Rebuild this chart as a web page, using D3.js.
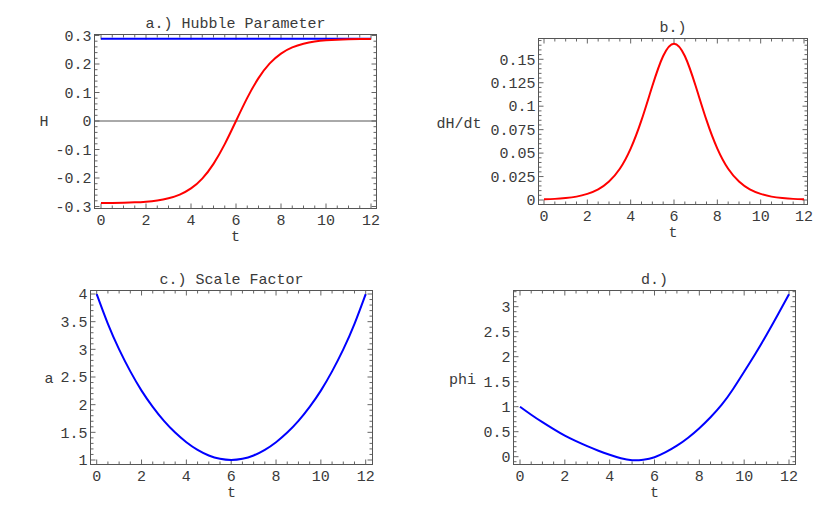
<!DOCTYPE html>
<html>
<head>
<meta charset="utf-8">
<script src="https://cdn.jsdelivr.net/npm/d3@7"></script>
<style>
  body { margin: 0; background: #fff; }
  svg { display: block; }
  text { font-family: "Liberation Mono", "Courier New", monospace; font-size: 15px; fill: #3a3a3a; }
</style>
</head>
<body>
<script>
// sample times
var tValues = [0, 0.5, 1, 1.5, 2, 2.5, 3, 3.5, 4, 4.5, 5, 5.5, 6, 6.5, 7, 7.5, 8, 8.5, 9, 9.5, 10, 10.5, 11, 11.5, 12];

// a.) Hubble parameter (red) and its limit (blue)
var hubble = [-0.2881, -0.2877, -0.2869, -0.2855, -0.2830, -0.2787, -0.2711, -0.2582, -0.2366, -0.2020, -0.1503, -0.0811, 0,
  0.0811, 0.1503, 0.2020, 0.2366, 0.2582, 0.2711, 0.2787, 0.2830, 0.2855, 0.2869, 0.2877, 0.2881];
var hubbleLimitT = [0, 12];
var hubbleLimit = [0.2887, 0.2887];

// b.) dH/dt
var dHdt = [0.0007, 0.0012, 0.0021, 0.0036, 0.0065, 0.0113, 0.0197, 0.0333, 0.0548, 0.0851, 0.1215, 0.1535, 0.1667,
  0.1535, 0.1215, 0.0851, 0.0548, 0.0333, 0.0197, 0.0113, 0.0065, 0.0036, 0.0021, 0.0012, 0.0007];

// c.) scale factor
var scaleFactor = [3.998, 3.461, 2.998, 2.602, 2.254, 1.960, 1.707, 1.496, 1.322, 1.183, 1.082, 1.021, 1.000,
  1.021, 1.082, 1.183, 1.322, 1.496, 1.707, 1.960, 2.254, 2.602, 2.998, 3.461, 3.998];

// d.) phi
var phi = [1.00, 0.84, 0.69, 0.55, 0.42, 0.31, 0.21, 0.12, 0.04, -0.03, -0.07, -0.06, -0.01,
  0.09, 0.22, 0.38, 0.57, 0.79, 1.04, 1.35, 1.70, 2.06, 2.44, 2.84, 3.25];

// tick labels
var xTicks = [0, 2, 4, 6, 8, 10, 12];
var yTicksA = [-0.3, -0.2, -0.1, 0, 0.1, 0.2, 0.3];
var yLabelsA = ["-0.3", "-0.2", "-0.1", "0", "0.1", "0.2", "0.3"];
var yTicksB = [0, 0.025, 0.05, 0.075, 0.1, 0.125, 0.15];
var yLabelsB = ["0", "0.025", "0.05", "0.075", "0.1", "0.125", "0.15"];
var yTicksC = [1, 1.5, 2, 2.5, 3, 3.5, 4];
var yLabelsC = ["1", "1.5", "2", "2.5", "3", "3.5", "4"];
var yTicksD = [0, 0.5, 1, 1.5, 2, 2.5, 3];
var yLabelsD = ["0", "0.5", "1", "1.5", "2", "2.5", "3"];

var svg = d3.select("body").append("svg").attr("width", 830).attr("height", 513);

function drawPanel(p) {
  var g = svg.append("g");
  var x = d3.scaleLinear().domain([0, 12]).range(p.xRange);
  var y = d3.scaleLinear().domain(p.yDomain).range(p.yRange);
  var f = p.frame;

  // minor + major ticks on all four sides, pointing inward
  var xMinor = d3.range(-0.5, 12.51, 0.5).filter(function (v) { return x(v) > f.x0 && x(v) < f.x1; });
  var yMinor = d3.range(p.yMinorFrom, p.yMinorTo + p.yMinorStep / 2, p.yMinorStep)
    .filter(function (v) { return y(v) > f.y0 + 0.5 && y(v) < f.y1 - 0.5; });
  var tickColor = "#666";

  xMinor.forEach(function (v) {
    var major = xTicks.some(function (m) { return Math.abs(m - v) < 1e-6; });
    var len = major ? 5 : 3;
    g.append("line").attr("x1", x(v)).attr("x2", x(v)).attr("y1", f.y1).attr("y2", f.y1 - len)
      .attr("stroke", tickColor).attr("stroke-width", 1);
    g.append("line").attr("x1", x(v)).attr("x2", x(v)).attr("y1", f.y0).attr("y2", f.y0 + len)
      .attr("stroke", tickColor).attr("stroke-width", 1);
  });
  yMinor.forEach(function (v) {
    var major = p.yTicks.some(function (m) { return Math.abs(m - v) < 1e-6; });
    var len = major ? 5 : 3;
    g.append("line").attr("x1", f.x0).attr("x2", f.x0 + len).attr("y1", y(v)).attr("y2", y(v))
      .attr("stroke", tickColor).attr("stroke-width", 1);
    g.append("line").attr("x1", f.x1).attr("x2", f.x1 - len).attr("y1", y(v)).attr("y2", y(v))
      .attr("stroke", tickColor).attr("stroke-width", 1);
  });

  // zero axis
  if (p.zeroLine) {
    g.append("line").attr("x1", f.x0).attr("x2", f.x1).attr("y1", y(0)).attr("y2", y(0))
      .attr("stroke", "#555").attr("stroke-width", 1);
  }

  // frame
  g.append("rect").attr("x", f.x0).attr("y", f.y0).attr("width", f.x1 - f.x0).attr("height", f.y1 - f.y0)
    .attr("fill", "none").attr("stroke", "#555").attr("stroke-width", 1);

  // curves
  p.series.forEach(function (s) {
    var line = d3.line()
      .x(function (d, i) { return x(s.t[i]); })
      .y(function (d) { return y(d); })
      .curve(d3.curveNatural);
    g.append("path").datum(s.values).attr("d", line)
      .attr("fill", "none").attr("stroke", s.color).attr("stroke-width", 2);
  });

  // x tick labels
  g.selectAll(".xt").data(xTicks).enter().append("text")
    .attr("x", function (d) { return x(d); }).attr("y", f.y1 + 16)
    .attr("text-anchor", "middle").text(function (d) { return d; });

  // y tick labels
  g.selectAll(".yt").data(p.yTicks).enter().append("text")
    .attr("x", f.x0 - 3).attr("y", function (d) { return y(d); }).attr("dy", "0.35em")
    .attr("text-anchor", "end").text(function (d, i) { return p.yLabels[i]; });

  // titles and axis labels
  g.append("text").attr("x", (f.x0 + f.x1) / 2).attr("y", f.y0 - 7)
    .attr("text-anchor", "middle").text(p.title);
  g.append("text").attr("x", (f.x0 + f.x1) / 2).attr("y", f.y1 + 32)
    .attr("text-anchor", "middle").text("t");
  g.append("text").attr("x", p.yLabelPos[0]).attr("y", p.yLabelPos[1]).attr("dy", "0.35em")
    .attr("text-anchor", "middle").text(p.yLabel);
}

drawPanel({
  title: "a.) Hubble Parameter", yLabel: "H", yLabelPos: [44, 121],
  frame: { x0: 94.5, x1: 376.5, y0: 34.5, y1: 208.5 },
  xRange: [101, 371], yDomain: [-0.3, 0.3], yRange: [206.5, 35.5],
  yTicks: yTicksA, yLabels: yLabelsA, yMinorFrom: -0.32, yMinorTo: 0.32, yMinorStep: 0.02,
  zeroLine: true,
  series: [
    { t: hubbleLimitT, values: hubbleLimit, color: "#0000ff" },
    { t: tValues, values: hubble, color: "#ff0000" }
  ]
});

drawPanel({
  title: "b.)", yLabel: "dH/dt", yLabelPos: [459, 123],
  frame: { x0: 538.5, x1: 807.5, y0: 38.5, y1: 204.5 },
  xRange: [544, 804], yDomain: [0, 0.15], yRange: [200, 59.3],
  yTicks: yTicksB, yLabels: yLabelsB, yMinorFrom: -0.01, yMinorTo: 0.18, yMinorStep: 0.005,
  series: [{ t: tValues, values: dHdt, color: "#ff0000" }]
});

drawPanel({
  title: "c.) Scale Factor", yLabel: "a", yLabelPos: [49, 378],
  frame: { x0: 90.5, x1: 372.5, y0: 290.5, y1: 464.5 },
  xRange: [96.7, 365.7], yDomain: [1, 4], yRange: [460, 294],
  yTicks: yTicksC, yLabels: yLabelsC, yMinorFrom: 0.8, yMinorTo: 4.2, yMinorStep: 0.1,
  series: [{ t: tValues, values: scaleFactor, color: "#0000ff" }]
});

drawPanel({
  title: "d.)", yLabel: "phi", yLabelPos: [462.5, 379],
  frame: { x0: 513.5, x1: 795.5, y0: 290.5, y1: 464.5 },
  xRange: [520, 789], yDomain: [0, 3], yRange: [456.7, 306.7],
  yTicks: yTicksD, yLabels: yLabelsD, yMinorFrom: -0.2, yMinorTo: 3.4, yMinorStep: 0.1,
  series: [{ t: tValues, values: phi, color: "#0000ff" }]
});
</script>
</body>
</html>
